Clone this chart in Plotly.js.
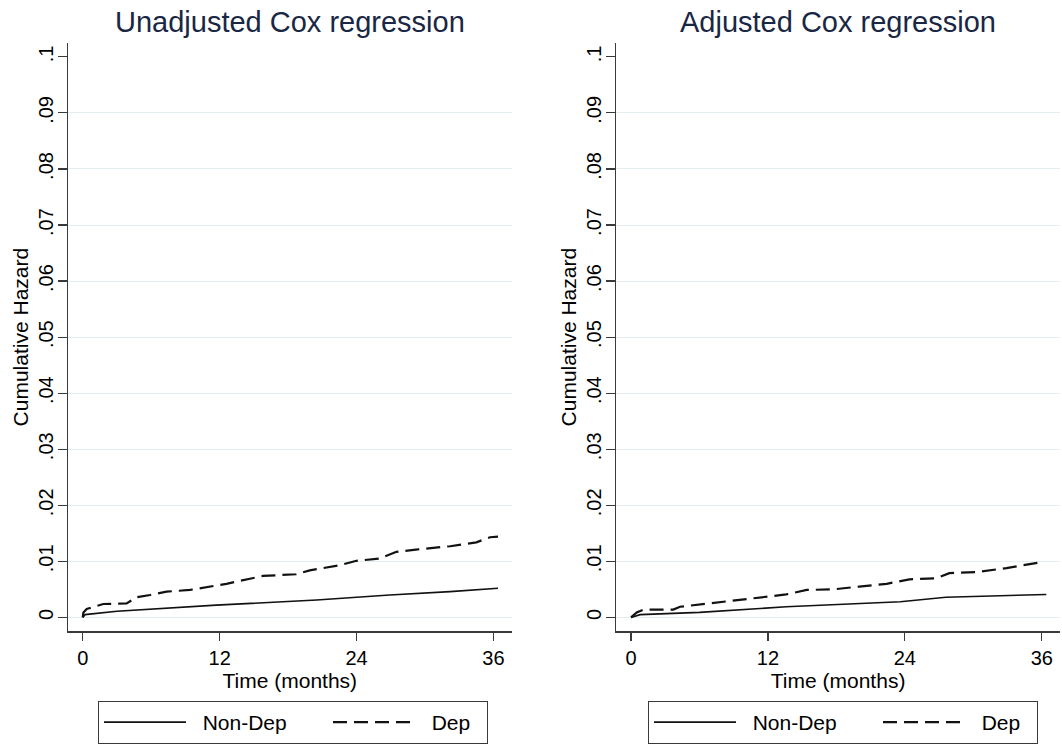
<!DOCTYPE html>
<html>
<head>
<meta charset="utf-8">
<script src="https://cdn.plot.ly/plotly-3.0.1.min.js"></script>
<style>html,body{margin:0;padding:0;background:#fff;}#chart{width:1062px;height:744px;}</style>
</head>
<body>
<div id="chart"></div>
<script>
// ---- Data ----
var unadjDepMonths = [0, 0.06, 0.35, 0.93, 1.8, 3.85, 4.7, 5.9, 7.35, 9.4, 10.9, 12.6, 14.65, 15.8, 18.7, 19.9, 22.5, 24, 26, 27.5, 29.2, 32.2, 34.5, 35.7, 36.4];
var unadjDepHazard = [0, 0.0009, 0.0015, 0.0019, 0.0024, 0.0025, 0.0036, 0.0040, 0.0046, 0.0049, 0.0054, 0.0060, 0.0069, 0.0074, 0.0077, 0.0084, 0.0093, 0.0101, 0.0105, 0.0117, 0.0121, 0.0127, 0.0134, 0.0143, 0.0144];
var unadjNonDepMonths = [0, 0.2, 3, 11.7, 20.5, 26.9, 32.2, 36.4];
var unadjNonDepHazard = [0, 0.0005, 0.0011, 0.0022, 0.0031, 0.0040, 0.0046, 0.0052];

var adjDepMonths = [0, 0.5, 1.1, 3.7, 4.3, 6.9, 9.5, 11.6, 13.6, 15.4, 17.7, 20, 22.4, 24.4, 26.8, 27.9, 30.3, 32.9, 34.9, 35.8];
var adjDepHazard = [0, 0.0009, 0.0014, 0.0014, 0.0019, 0.0025, 0.0031, 0.0037, 0.0041, 0.0049, 0.0050, 0.0055, 0.0060, 0.0068, 0.0070, 0.0079, 0.0081, 0.0088, 0.0094, 0.0098];
var adjNonDepMonths = [0, 0.8, 6, 13.6, 23.6, 27.6, 36.4];
var adjNonDepHazard = [0, 0.0005, 0.0009, 0.0019, 0.0028, 0.0036, 0.0041];

var xTickVals = [0, 12, 24, 36];
var yGridVals = [0, 0.01, 0.02, 0.03, 0.04, 0.05, 0.06, 0.07, 0.08, 0.09];
var yGridText = ['0', '.01', '.02', '.03', '.04', '.05', '.06', '.07', '.08', '.09'];
var yTopVal = [0.1];
var yTopText = ['.1'];
var panelTitles = ['Unadjusted Cox regression', 'Adjusted Cox regression'];
var seriesNames = ['Non-Dep', 'Dep'];

// ---- Styling ----
var FONT = 'Liberation Sans, Arial, Helvetica, sans-serif';
var AX = '#3a3a3a';
var GRID = '#e4eef0';
var W = 1062, H = 744;
var xRange = [-1.3, 37.6];
var yRange = [-0.0025, 0.1025];
var yDom = [1 - 634 / H, 1 - 43 / H];
var KEY_GAP = '\u00a0\u00a0';   // Stata leaves a wider gap between legend key and label

function xAxis(dom, anchor) {
  return {
    domain: dom, anchor: anchor, range: xRange, fixedrange: true,
    showline: true, linecolor: AX, linewidth: 1.2, mirror: false,
    ticks: 'outside', ticklen: 8, tickwidth: 1.2, tickcolor: AX,
    tickmode: 'array', tickvals: xTickVals,
    tickfont: {family: FONT, size: 20, color: '#000'},
    showgrid: false, zeroline: false,
    title: {text: 'Time (months)', font: {family: FONT, size: 21, color: '#000'}, standoff: 2}
  };
}
function yAxis(anchor) {
  return {
    domain: yDom, anchor: anchor, range: yRange, fixedrange: true,
    showline: true, linecolor: AX, linewidth: 1.2,
    ticks: 'outside', ticklen: 9, tickwidth: 1.2, tickcolor: AX,
    tickmode: 'array', tickvals: yGridVals, ticktext: yGridText, tickangle: -90,
    ticklabelstandoff: -3,
    tickfont: {family: FONT, size: 20, color: '#000'},
    showgrid: true, gridcolor: GRID, gridwidth: 1, zeroline: false,
    title: {text: 'Cumulative Hazard', font: {family: FONT, size: 21, color: '#000'}, standoff: 0}
  };
}
function yTopAxis(over, anchor) {
  return {
    overlaying: over, anchor: anchor, range: yRange, fixedrange: true, side: 'left',
    showline: false, ticks: 'outside', ticklen: 9, tickwidth: 1.2, tickcolor: AX,
    tickmode: 'array', tickvals: yTopVal, ticktext: yTopText, tickangle: -90,
    ticklabelstandoff: -3,
    tickfont: {family: FONT, size: 20, color: '#000'},
    showgrid: false, zeroline: false
  };
}

var solid = {color: '#111', width: 1.6};
var dashed = {color: '#111', width: 2.2, dash: '14px,7px'};

var traces = [
  {x: unadjNonDepMonths, y: unadjNonDepHazard, name: KEY_GAP + seriesNames[0], type: 'scatter', mode: 'lines', line: solid, xaxis: 'x', yaxis: 'y', legend: 'legend', legendwidth: 132, hoverinfo: 'skip'},
  {x: unadjDepMonths, y: unadjDepHazard, name: KEY_GAP + seriesNames[1], type: 'scatter', mode: 'lines', line: dashed, xaxis: 'x', yaxis: 'y', legend: 'legend', legendwidth: 62, hoverinfo: 'skip'},
  {x: adjNonDepMonths, y: adjNonDepHazard, name: KEY_GAP + seriesNames[0], type: 'scatter', mode: 'lines', line: solid, xaxis: 'x2', yaxis: 'y2', legend: 'legend2', legendwidth: 132, hoverinfo: 'skip'},
  {x: adjDepMonths, y: adjDepHazard, name: KEY_GAP + seriesNames[1], type: 'scatter', mode: 'lines', line: dashed, xaxis: 'x2', yaxis: 'y2', legend: 'legend2', legendwidth: 62, hoverinfo: 'skip'},
  // empty helper traces so the overlaid axes carrying the ".1" tick are drawn
  {x: [], y: [], type: 'scatter', mode: 'lines', xaxis: 'x', yaxis: 'y3', showlegend: false, hoverinfo: 'skip'},
  {x: [], y: [], type: 'scatter', mode: 'lines', xaxis: 'x2', yaxis: 'y4', showlegend: false, hoverinfo: 'skip'}
];

var legendBase = {
  orientation: 'h', xanchor: 'left', yanchor: 'top', y: 1 - 704 / H,
  bordercolor: AX, borderwidth: 1, bgcolor: '#fff',
  font: {family: FONT, size: 21, color: '#000'},
  itemwidth: 82, itemclick: false, itemdoubleclick: false
};

var xDomL = [67.9 / W, 511.7 / W];
var xDomR = [616.2 / W, 1060 / W];

var layout = {
  width: W, height: H,
  margin: {l: 0, r: 0, t: 0, b: 0, pad: 0},
  paper_bgcolor: '#fff', plot_bgcolor: '#fff',
  font: {family: FONT, color: '#000'},
  showlegend: true,
  xaxis: xAxis(xDomL, 'y'),
  yaxis: yAxis('x'),
  xaxis2: xAxis(xDomR, 'y2'),
  yaxis2: yAxis('x2'),
  yaxis3: yTopAxis('y', 'x'),
  yaxis4: yTopAxis('y2', 'x2'),
  legend: Object.assign({}, legendBase, {x: 98 / W}),
  legend2: Object.assign({}, legendBase, {x: 648 / W}),
  annotations: [
    {text: panelTitles[0], xref: 'paper', yref: 'paper', x: (xDomL[0] + xDomL[1]) / 2, y: 1 - 22 / H, xanchor: 'center', yanchor: 'middle', showarrow: false, font: {family: FONT, size: 29, color: '#1a2744'}},
    {text: panelTitles[1], xref: 'paper', yref: 'paper', x: (xDomR[0] + xDomR[1]) / 2, y: 1 - 22 / H, xanchor: 'center', yanchor: 'middle', showarrow: false, font: {family: FONT, size: 29, color: '#1a2744'}}
  ]
};

Plotly.newPlot('chart', traces, layout, {staticPlot: true, displayModeBar: false});
</script>
</body>
</html>
